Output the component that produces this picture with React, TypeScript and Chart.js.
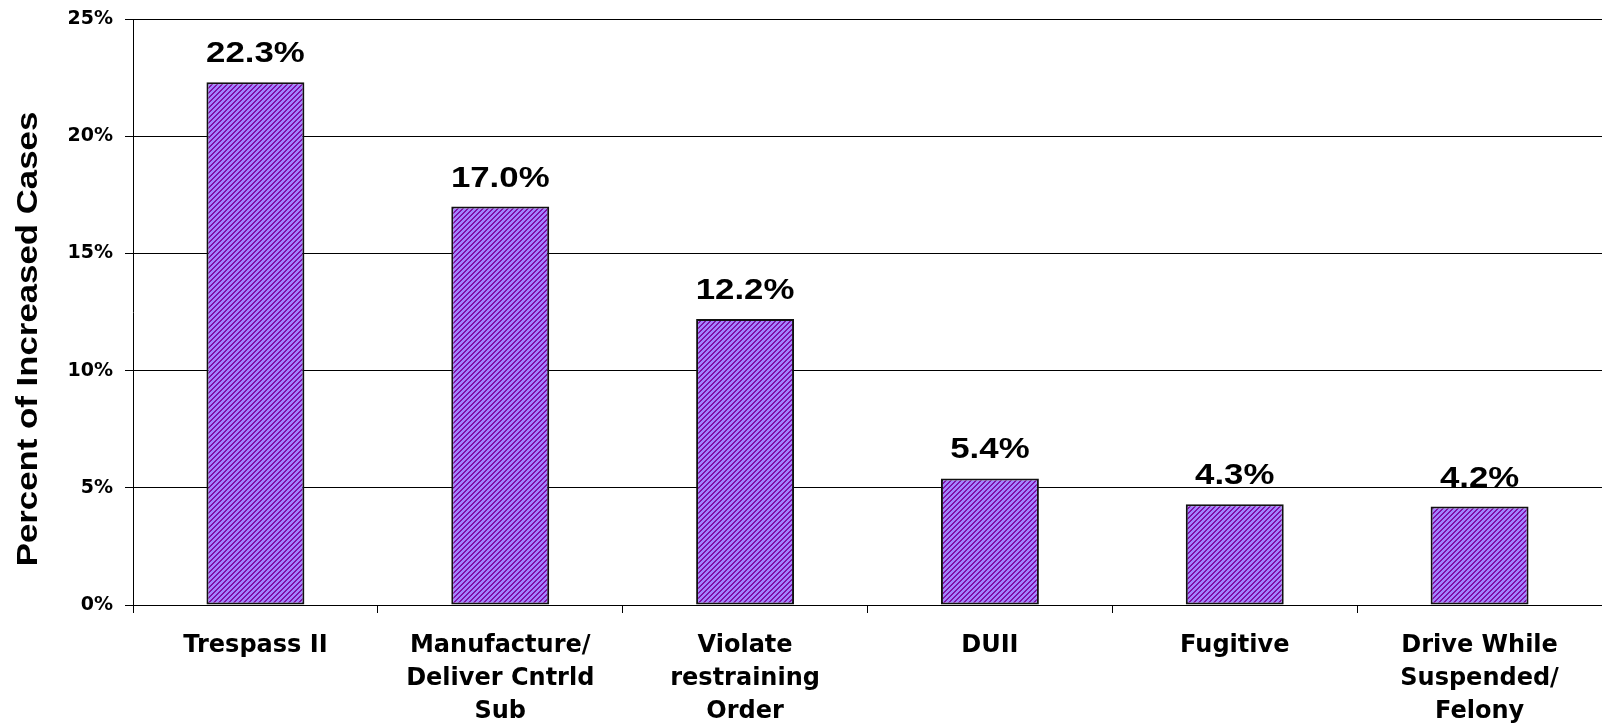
import React, { useEffect, useRef } from "react";
import { Chart, registerables } from "chart.js";

Chart.register(...registerables);

const categories: string[][] = [
  ["Trespass II"],
  ["Manufacture/", "Deliver Cntrld", "Sub"],
  ["Violate", "restraining", "Order"],
  ["DUII"],
  ["Fugitive"],
  ["Drive While", "Suspended/", "Felony"],
];
const percentIncrease: number[] = [22.3, 17.0, 12.2, 5.4, 4.3, 4.2];
const yTickValues: number[] = [0, 5, 10, 15, 20, 25];
const yAxisTitle = "Percent of Increased Cases";

const FONT = "'DejaVu Sans', 'Liberation Sans', Arial, sans-serif";
const ARIAL = "'Liberation Sans', Arial, sans-serif";

function makePattern(): CanvasPattern | string {
  const n = 5;
  const c = document.createElement("canvas");
  c.width = n;
  c.height = n;
  const ctx = c.getContext("2d");
  if (!ctx) return "#A080FF";
  const img = ctx.createImageData(n, n);
  const light = [0xa2, 0x84, 0xff];
  const dark = [0x80, 0x10, 0xa8];
  for (let y = 0; y < n; y++) {
    for (let x = 0; x < n; x++) {
      const col = (x + y) % n < 2 ? dark : light;
      const i = (y * n + x) * 4;
      img.data[i] = col[0];
      img.data[i + 1] = col[1];
      img.data[i + 2] = col[2];
      img.data[i + 3] = 255;
    }
  }
  ctx.putImageData(img, 0, 0);
  const p = ctx.createPattern(c, "repeat");
  return p || "#A080FF";
}

const valueLabelPlugin = {
  id: "valueLabels",
  afterDatasetsDraw(chart: any) {
    const ctx = chart.ctx;
    const meta = chart.getDatasetMeta(0);
    meta.data.forEach((bar: any, i: number) => {
      ctx.save();
      ctx.translate(bar.x, bar.y - 20);
      ctx.scale(1.2, 1);
      ctx.fillStyle = "#000";
      ctx.font = `bold 29px ${ARIAL}`;
      ctx.textAlign = "center";
      ctx.textBaseline = "alphabetic";
      ctx.fillText(percentIncrease[i].toFixed(1) + "%", 0, 0);
      ctx.restore();
    });
  },
};

const yTitlePlugin = {
  id: "yTitle",
  afterDraw(chart: any) {
    const ctx = chart.ctx;
    ctx.save();
    ctx.translate(29, 339);
    ctx.rotate(-Math.PI / 2);
    ctx.scale(1.2, 1);
    ctx.fillStyle = "#000";
    ctx.font = `bold 29px ${ARIAL}`;
    ctx.textAlign = "center";
    ctx.textBaseline = "middle";
    ctx.fillText(yAxisTitle, 0, 0);
    ctx.restore();
  },
};

export default function App() {
  const canvasRef = useRef<HTMLCanvasElement | null>(null);

  useEffect(() => {
    const canvas = canvasRef.current;
    if (!canvas) return;
    const chart = new Chart(canvas, {
      type: "bar",
      data: {
        labels: categories,
        datasets: [
          {
            data: percentIncrease,
            backgroundColor: makePattern() as any,
            borderColor: "#111",
            borderWidth: 2,
            borderSkipped: false,
            categoryPercentage: 1,
            barPercentage: 0.4,
          },
        ],
      },
      options: {
        responsive: false,
        animation: false,
        layout: { padding: { top: 19, left: 0, right: 0, bottom: 0 } },
        plugins: {
          legend: { display: false },
          tooltip: { enabled: false },
        },
        scales: {
          x: {
            grid: {
              display: true,
              drawOnChartArea: false,
              drawTicks: true,
              tickLength: 8,
              color: "#000",
              offset: true,
            },
            border: { display: true, color: "#000", width: 1 },
            ticks: {
              color: "#000",
              font: { family: FONT, size: 24, weight: "bold", lineHeight: 1.375 },
              padding: 16,
              maxRotation: 0,
              autoSkip: false,
            },
            afterFit(scale: any) {
              scale.height = 118;
              scale.paddingLeft = 0;
              scale.paddingRight = 0;
            },
          },
          y: {
            min: 0,
            max: 25,
            afterBuildTicks(scale: any) {
              scale.ticks = yTickValues.map((v) => ({ value: v }));
            },
            grid: {
              color: "#000",
              lineWidth: 1,
              drawTicks: true,
              tickLength: 8,
            },
            border: { display: true, color: "#000", width: 1 },
            ticks: {
              color: "#000",
              font: { family: FONT, size: 19, weight: "bold" },
              padding: 12,
              callback: (v: any) => `${v}%`,
            },
            afterFit(scale: any) {
              scale.width = 133;
              scale.paddingTop = 0;
              scale.paddingBottom = 0;
            },
          },
        },
      },
      plugins: [valueLabelPlugin, yTitlePlugin],
    });
    return () => chart.destroy();
  }, []);

  return (
    <div style={{ position: "absolute", left: 0, top: 0, width: 1602, height: 723, background: "#fff" }}>
      <canvas ref={canvasRef} width={1602} height={723} style={{ display: "block", width: 1602, height: 723 }} />
    </div>
  );
}
